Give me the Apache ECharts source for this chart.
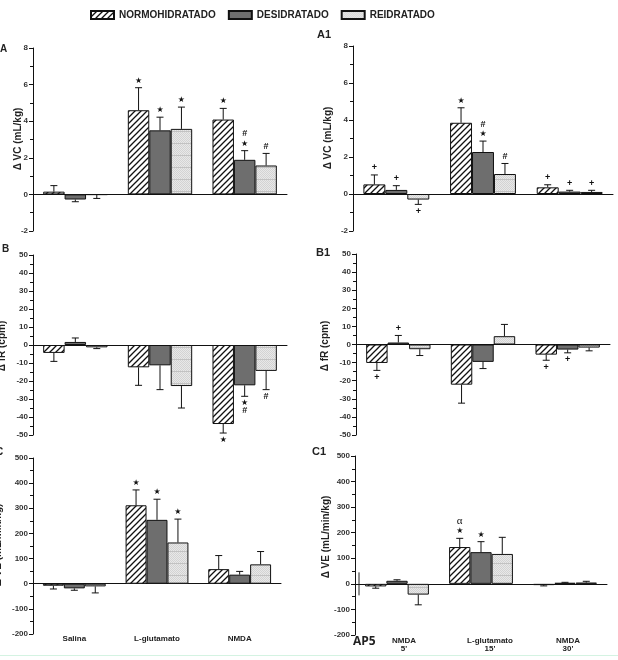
<!DOCTYPE html>
<html><head><meta charset="utf-8">
<script src="https://cdn.jsdelivr.net/npm/echarts@6/dist/echarts.min.js"></script>
<style>html,body{margin:0;padding:0;background:#fff}#c{width:618px;height:660px}</style>
</head><body><div id="c"></div>
<script>
// ---------- DATA ----------
const seriesNames = ['NORMOHIDRATADO', 'DESIDRATADO', 'REIDRATADO'];
const catsLeft = ['Salina', 'L-glutamato', 'NMDA'];
const catsRight = ["NMDA\n5'", "L-glutamato\n15'", "NMDA\n30'"];

// Panel A — Δ VC (mL/kg)
const vcA_normo = [0.15, 4.60, 4.09];
const vcA_desid = [-0.28, 3.50, 1.89];
const vcA_reid  = [-0.02, 3.58, 1.58];
const vcA_normo_sem = [0.33, 1.23, 0.61];
const vcA_desid_sem = [0.12, 0.72, 0.50];
const vcA_reid_sem  = [0.20, 1.19, 0.66];
const notesA_normo = ['', '*', '*'];
const notesA_desid = ['', '*', '#\n*'];
const notesA_reid  = ['', '*', '#'];

// Panel A1 — Δ VC (mL/kg)
const vcA1_normo = [0.52, 3.85, 0.36];
const vcA1_desid = [0.22, 2.27, 0.13];
const vcA1_reid  = [-0.30, 1.08, 0.11];
const vcA1_normo_sem = [0.51, 0.81, 0.14];
const vcA1_desid_sem = [0.23, 0.59, 0.07];
const vcA1_reid_sem  = [0.26, 0.57, 0.09];
const notesA1_normo = ['+', '*', '+'];
const notesA1_desid = ['+', '#\n*', '+'];
const notesA1_reid  = ['+', '#', '+'];

// Panel B — Δ fR (cpm)
const frB_normo = [-4.4, -12.4, -43.9];
const frB_desid = [1.7, -11.3, -22.4];
const frB_reid  = [-1.3, -22.8, -14.4];
const frB_normo_sem = [4.7, 10.0, 5.0];
const frB_desid_sem = [2.2, 13.5, 6.1];
const frB_reid_sem  = [0.7, 12.2, 10.4];
const notesB_normo = ['', '', '*'];
const notesB_desid = ['', '', '*\n#'];
const notesB_reid  = ['', '', '#'];

// Panel B1 — Δ fR (cpm)
const frB1_normo = [-10.2, -22.2, -5.6];
const frB1_desid = [1.1, -9.6, -2.8];
const frB1_reid  = [-2.6, 4.6, -1.7];
const frB1_normo_sem = [4.1, 10.2, 3.1];
const frB1_desid_sem = [3.9, 3.7, 1.8];
const frB1_reid_sem  = [3.5, 6.5, 1.8];
const notesB1_normo = ['+', '', '+'];
const notesB1_desid = ['+', '', '+'];
const notesB1_reid  = ['', '', ''];

// Panel C — Δ VE (mL/min/kg)
const veC_normo = [-8, 312, 58];
const veC_desid = [-18.5, 254, 36];
const veC_reid  = [-10.6, 164, 77];
const veC_normo_sem = [13, 61, 54];
const veC_desid_sem = [7.5, 82, 13];
const veC_reid_sem  = [26, 93, 51];
const notesC_normo = ['', '*', ''];
const notesC_desid = ['', '*', ''];
const notesC_reid  = ['', '*', ''];

// Panel C1 — Δ VE (mL/min/kg)
const veC1_normo = [-10, 144, -5];
const veC1_desid = [12, 124, 4];
const veC1_reid  = [-42, 117, 5];
const veC1_normo_sem = [7, 34, 3];
const veC1_desid_sem = [4, 41, 2];
const veC1_reid_sem  = [40, 65, 5];
const notesC1_normo = ['', 'α\n*', ''];
const notesC1_desid = ['', '*', ''];
const notesC1_reid  = ['', '', ''];
const ap5Line = [45, -45];

// axis ranges [min, max, interval]
const yRangeVC = [-2, 8, 2];
const yRangeFR = [-50, 50, 10];
const yRangeVE = [-200, 500, 100];

const yNameVC = 'Δ VC (mL/kg)';
const yNameFR = 'Δ fR (cpm)';
const yNameVE = 'Δ VE (mL/min/kg)';

// ---------- STYLE ----------
const FONT = '"Liberation Sans", Arial, sans-serif';
const GAP = 0.24;

function hatch() {
  const cv = document.createElement('canvas'); cv.width = 6; cv.height = 6;
  const g = cv.getContext('2d');
  g.fillStyle = '#fff'; g.fillRect(0, 0, 6, 6);
  g.strokeStyle = '#111'; g.lineWidth = 1.3;
  g.beginPath();
  g.moveTo(0, 6); g.lineTo(6, 0);
  g.moveTo(-3, 3); g.lineTo(3, -3);
  g.moveTo(3, 9); g.lineTo(9, 3);
  g.stroke();
  return cv;
}
function dotted() {
  const w = 4, h = 12;
  const cv = document.createElement('canvas'); cv.width = w; cv.height = h;
  const g = cv.getContext('2d');
  g.fillStyle = '#e8e8e8'; g.fillRect(0, 0, w, h);
  g.fillStyle = '#d3d3d3';
  for (let y = 0; y < h; y++) for (let x = 0; x < w; x++) if ((x + y) % 2 === 0) g.fillRect(x, y, 1, 1);
  g.fillStyle = '#c2c2c2'; g.fillRect(0, h - 1, w, 1);
  return cv;
}
const fills = [
  { image: hatch(), repeat: 'repeat' },
  '#6e6e6e',
  { image: dotted(), repeat: 'repeat' }
];

const grids = [
  { left: 33, top: 48, width: 254, height: 183 },   // A
  { left: 353, top: 46, width: 260, height: 185 },  // A1
  { left: 33, top: 255, width: 254, height: 180 },  // B
  { left: 356, top: 254, width: 254, height: 181 }, // B1
  { left: 33, top: 458, width: 248, height: 176 },  // C
  { left: 355, top: 456, width: 252, height: 179 }  // C1
].map(g => Object.assign({ outerBoundsMode: 'none', containLabel: false }, g));

// axis-title centres (style)
const namePos = [[18, 139], [328, 138], [2, 346], [325, 346], [-2, 545], [326, 537]];

const panels = [
  { vals: [vcA_normo, vcA_desid, vcA_reid], sems: [vcA_normo_sem, vcA_desid_sem, vcA_reid_sem], notes: [notesA_normo, notesA_desid, notesA_reid], cats: catsLeft, range: yRangeVC, name: yNameVC },
  { vals: [vcA1_normo, vcA1_desid, vcA1_reid], sems: [vcA1_normo_sem, vcA1_desid_sem, vcA1_reid_sem], notes: [notesA1_normo, notesA1_desid, notesA1_reid], cats: catsRight, range: yRangeVC, name: yNameVC },
  { vals: [frB_normo, frB_desid, frB_reid], sems: [frB_normo_sem, frB_desid_sem, frB_reid_sem], notes: [notesB_normo, notesB_desid, notesB_reid], cats: catsLeft, range: yRangeFR, name: yNameFR },
  { vals: [frB1_normo, frB1_desid, frB1_reid], sems: [frB1_normo_sem, frB1_desid_sem, frB1_reid_sem], notes: [notesB1_normo, notesB1_desid, notesB1_reid], cats: catsRight, range: yRangeFR, name: yNameFR },
  { vals: [veC_normo, veC_desid, veC_reid], sems: [veC_normo_sem, veC_desid_sem, veC_reid_sem], notes: [notesC_normo, notesC_desid, notesC_reid], cats: catsLeft, range: yRangeVE, name: yNameVE },
  { vals: [veC1_normo, veC1_desid, veC1_reid], sems: [veC1_normo_sem, veC1_desid_sem, veC1_reid_sem], notes: [notesC1_normo, notesC1_desid, notesC1_reid], cats: catsRight, range: yRangeVE, name: yNameVE }
];

const glyphStyle = {
  '*': { t: '★', size: 8, font: '"DejaVu Sans", sans-serif', weight: 'normal' },
  '#': { t: '#', size: 9, font: FONT, weight: 'bold' },
  '+': { t: '+', size: 9, font: FONT, weight: 'bold' },
  'α': { t: 'α', size: 11, font: '"Liberation Serif", serif', weight: 'normal' }
};

const xAxes = [], yAxes = [], series = [];
panels.forEach((p, i) => {
  xAxes.push({
    type: 'category', gridIndex: i, data: p.cats,
    axisLine: { show: true, onZero: true, lineStyle: { color: '#111', width: 1 } },
    axisTick: { show: false }, axisLabel: { show: false }, splitLine: { show: false }
  });
  yAxes.push({
    type: 'value', gridIndex: i, min: p.range[0], max: p.range[1], interval: p.range[2],
    axisLine: { show: true, lineStyle: { color: '#111', width: 1 } },
    axisTick: { show: true, inside: false, length: 4, lineStyle: { color: '#111' } },
    minorTick: { show: true, splitNumber: 2, length: 3, lineStyle: { color: '#111' } },
    splitLine: { show: false },
    axisLabel: { fontFamily: FONT, fontWeight: 'bold', fontSize: 8, color: '#333', margin: 5 }
  });
  for (let s = 0; s < 3; s++) {
    series.push({
      type: 'bar', name: seriesNames[s], xAxisIndex: i, yAxisIndex: i,
      data: p.vals[s], barGap: '0%', barCategoryGap: (GAP * 100) + '%',
      itemStyle: { color: fills[s], borderColor: '#111', borderWidth: 1 },
      emphasis: { disabled: true }
    });
  }
  const edata = [];
  for (let s = 0; s < 3; s++) for (let c = 0; c < 3; c++) edata.push([c, p.vals[s][c], p.sems[s][c], s]);
  series.push({
    type: 'custom', xAxisIndex: i, yAxisIndex: i, z: 5, data: edata,
    encode: { x: 0, y: 1 },
    renderItem: (params, api) => {
      const c = api.value(0), v = api.value(1), e = api.value(2), s = api.value(3);
      const band = api.size([1, 0])[0];
      const bw = band * (1 - GAP) / 3;
      const sign = v < 0 ? -1 : 1;
      const a = api.coord([c, v]), b = api.coord([c, v + sign * e]);
      const x = a[0] + (s - 1) * bw;
      const cap = 3.5;
      const children = [
        { type: 'line', shape: { x1: x, y1: a[1], x2: x, y2: b[1] }, style: { stroke: '#111', lineWidth: 1 } },
        { type: 'line', shape: { x1: x - cap, y1: b[1], x2: x + cap, y2: b[1] }, style: { stroke: '#111', lineWidth: 1 } }
      ];
      const note = p.notes[s][c];
      if (note) {
        const lines = note.split('\n');
        const ordered = sign > 0 ? lines.slice().reverse() : lines;
        ordered.forEach((ch, k) => {
          const gs = glyphStyle[ch];
          const y = sign > 0 ? b[1] - 7 - 10 * k : b[1] + 7 + 7 * k;
          children.push({
            type: 'text',
            style: {
              text: gs.t, x: x, y: y, align: 'center', verticalAlign: 'middle',
              fontFamily: gs.font, fontSize: gs.size, fontWeight: gs.weight, fill: '#111'
            }
          });
        });
      }
      return { type: 'group', children };
    }
  });
});

// bottom category label axes for C and C1
xAxes.push({
  type: 'category', gridIndex: 4, data: catsLeft, position: 'bottom',
  axisLine: { show: false, onZero: false }, axisTick: { show: false },
  axisLabel: { show: true, margin: 1, fontFamily: FONT, fontWeight: 'bold', fontSize: 8, color: '#222' }
});
const rightLabelShift = [14, 18, 6];
xAxes.push({
  type: 'category', gridIndex: 5, data: catsRight, position: 'bottom',
  axisLine: { show: false, onZero: false }, axisTick: { show: false },
  axisLabel: {
    show: true, margin: 2, fontFamily: FONT, fontWeight: 'bold', fontSize: 8, lineHeight: 8, color: '#222',
    formatter: (v, idx) => v.split('\n').map(t => '{o' + idx + '|' + t + '}').join('\n'),
    rich: {
      o0: { padding: [0, 0, 0, rightLabelShift[0]], fontFamily: FONT, fontWeight: 'bold', fontSize: 8, lineHeight: 8, color: '#222' },
      o1: { padding: [0, 0, 0, rightLabelShift[1]], fontFamily: FONT, fontWeight: 'bold', fontSize: 8, lineHeight: 8, color: '#222' },
      o2: { padding: [0, 0, 0, rightLabelShift[2]], fontFamily: FONT, fontWeight: 'bold', fontSize: 8, lineHeight: 8, color: '#222' }
    }
  }
});

// AP5 marker line in C1
series.push({
  type: 'custom', xAxisIndex: 5, yAxisIndex: 5, z: 5, data: [[0, ap5Line[0], ap5Line[1]]],
  encode: { x: 0, y: 1 },
  renderItem: (params, api) => {
    const band = api.size([1, 0])[0];
    const t = api.coord([0, api.value(1)]), b = api.coord([0, api.value(2)]);
    const x = t[0] - band / 2 + 4;
    return { type: 'line', shape: { x1: x, y1: t[1], x2: x, y2: b[1] }, style: { stroke: '#222', lineWidth: 1 } };
  }
});

const letterStyle = (txt, x, y, size) => ({
  type: 'text', left: x, top: y,
  style: { text: txt, fontFamily: FONT, fontWeight: 'bold', fontSize: size, fill: '#222' }
});
const nameGraphics = panels.map((p, i) => ({
  type: 'text', x: namePos[i][0], y: namePos[i][1], rotation: Math.PI / 2,
  style: { text: p.name, align: 'center', verticalAlign: 'middle', fontFamily: FONT, fontWeight: 'bold', fontSize: 10, fill: '#222' }
}));

const option = {
  animation: false,
  backgroundColor: '#fff',
  legend: {
    data: seriesNames, top: 5, left: 85, itemWidth: 23, itemHeight: 8, itemGap: 12,
    icon: 'rect',
    textStyle: { fontFamily: FONT, fontWeight: 'bold', fontSize: 10, color: '#222' }
  },
  grid: grids,
  xAxis: xAxes,
  yAxis: yAxes,
  series: series,
  graphic: [
    letterStyle('A', 0, 44, 10),
    letterStyle('A1', 317, 29, 11),
    letterStyle('B', 2, 244, 10),
    letterStyle('B1', 316, 247, 11),
    letterStyle('C', -4, 447, 10),
    letterStyle('C1', 312, 446, 11),
    { type: 'text', left: 353, top: 636, style: { text: 'AP5', fontFamily: '"Open Sans", ' + FONT, fontWeight: 'bold', fontSize: 12, fill: '#222' } },
    { type: 'rect', left: 0, top: 655, shape: { width: 618, height: 1 }, style: { fill: '#d4f3e2' } }
  ].concat(nameGraphics)
};

const chart = echarts.init(document.getElementById('c'), null, { renderer: 'canvas' });
chart.setOption(option);
</script>
</body></html>
